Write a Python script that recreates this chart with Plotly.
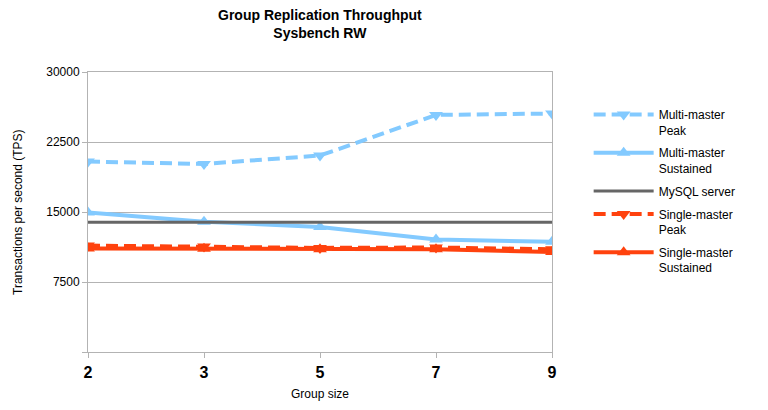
import plotly.graph_objects as go

group_sizes = ["2", "3", "5", "7", "9"]
multi_peak = [20400, 20150, 21050, 25400, 25550]
multi_sustained = [14950, 13950, 13400, 12050, 11800]
mysql_server = [13900, 13900, 13900, 13900, 13900]
single_peak = [11400, 11300, 11150, 11200, 11000]
single_sustained = [11100, 11070, 11000, 11000, 10720]
y_ticks = [0, 7500, 15000, 22500, 30000]
y_tick_labels = ["", "7500", "15000", "22500", "30000"]

BLUE = "#83caff"
GRAY = "#666666"
RED = "#ff420e"

fig = go.Figure()
fig.add_trace(go.Scatter(x=group_sizes, y=multi_peak, name="Multi-master<br>Peak",
                         mode="lines+markers", legendgroup="a",
                         line=dict(color=BLUE, width=4, dash="12px,6px"),
                         marker=dict(symbol="triangle-down", size=12, color=BLUE)))
fig.add_trace(go.Scatter(x=group_sizes, y=multi_sustained, name="Multi-master<br>Sustained",
                         mode="lines+markers", legendgroup="b",
                         line=dict(color=BLUE, width=4),
                         marker=dict(symbol="triangle-up", size=12, color=BLUE)))
fig.add_trace(go.Scatter(x=group_sizes, y=mysql_server, name="MySQL server",
                         mode="lines", legendgroup="c",
                         line=dict(color=GRAY, width=3)))
fig.add_trace(go.Scatter(x=group_sizes, y=single_peak, name="Single-master<br>Peak",
                         mode="lines+markers", legendgroup="d",
                         line=dict(color=RED, width=4, dash="12px,6px"),
                         marker=dict(symbol="triangle-down", size=12, color=RED)))
fig.add_trace(go.Scatter(x=group_sizes, y=single_sustained, name="Single-master<br>Sustained",
                         mode="lines+markers", legendgroup="e",
                         line=dict(color=RED, width=4),
                         marker=dict(symbol="triangle-up", size=12, color=RED)))

fig.update_layout(
    width=768, height=410,
    margin=dict(l=88, r=216, t=72, b=58),
    paper_bgcolor="white", plot_bgcolor="white",
    font=dict(family="Liberation Sans, Arial, sans-serif", color="black", size=12),
    annotations=[
        dict(text="<b>Group Replication Throughput<br>Sysbench RW</b>",
             xref="paper", yref="paper", x=0.5, y=1.0 + 48 / 280,
             xanchor="center", yanchor="middle", showarrow=False,
             font=dict(size=14, color="black")),
        dict(text="Group size", xref="paper", yref="paper", x=0.5, y=-42 / 280,
             xanchor="center", yanchor="middle", showarrow=False,
             font=dict(size=12, color="black")),
        dict(text="Transactions per second (TPS)", xref="paper", yref="paper",
             x=-70 / 464, y=0.5, textangle=-90,
             xanchor="center", yanchor="middle", showarrow=False,
             font=dict(size=12, color="black")),
    ],
    showlegend=True,
    legend=dict(x=1.079, xanchor="left", y=0.899, yanchor="top",
                font=dict(size=12), itemwidth=60, valign="top",
                tracegroupgap=4, bgcolor="rgba(0,0,0,0)"),
    xaxis=dict(type="category", range=[0, 4], showgrid=False, automargin=False,
               showline=True, linecolor="#b3b3b3", linewidth=1, mirror=True,
               ticks="outside", ticklen=5, tickcolor="#b3b3b3", ticklabelstandoff=1,
               tickfont=dict(size=16, color="black", family="Liberation Sans, Arial, sans-serif")),
    yaxis=dict(range=[0, 30000], tickvals=y_ticks, ticktext=y_tick_labels, automargin=False,
               showgrid=True, gridcolor="#b3b3b3", gridwidth=1,
               showline=True, linecolor="#b3b3b3", linewidth=1, mirror=True,
               ticks="outside", ticklen=5, tickcolor="#b3b3b3", zeroline=False,
               tickfont=dict(size=12)),
)
fig.update_xaxes(tickprefix="<b>", ticksuffix="</b>")

fig.write_html("out.html")
